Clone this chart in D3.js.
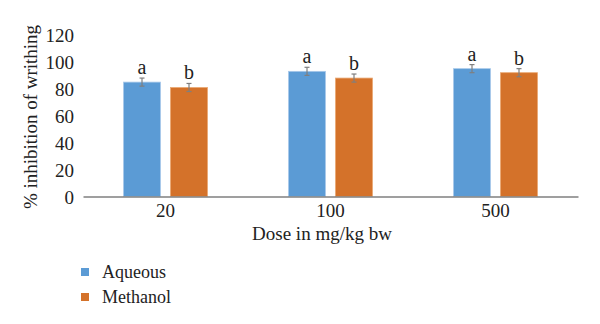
<!DOCTYPE html>
<html><head><meta charset="utf-8">
<script src="https://cdn.jsdelivr.net/npm/d3@7"></script>
<style>body{margin:0;background:#fff}svg{display:block}svg text{font-family:"Liberation Serif","DejaVu Serif","Times New Roman",serif !important;fill:#222}</style>
</head><body><svg id="c" width="600" height="324"></svg>
<script>
const categories = ["20", "100", "500"];
const seriesNames = ["Aqueous", "Methanol"];
const aqueous = [85, 93, 95];
const methanol = [81, 88, 92];
const aqueousErr = [3, 3, 3];
const methanolErr = [3, 3, 3];
const letters = ["a", "b"];
const yTicks = [0, 20, 40, 60, 80, 100, 120];
const colors = ["#5B9BD5", "#D4722A"];

const svg = d3.select("#c");
const m = {l: 83, r: 22, t: 35, b: 128};
const W = 600, H = 324;
const x = d3.scaleBand().domain(categories).range([m.l, W - m.r]).paddingInner(0).paddingOuter(0);
const y = d3.scaleLinear().domain([0, 120]).range([196.5, 35]);
const barW = 37, gap = 10;

const data = categories.map((c, i) => ({c, vals: [
  {s: 0, v: aqueous[i], e: aqueousErr[i]},
  {s: 1, v: methanol[i], e: methanolErr[i]}
]}));

const yAxis = d3.axisLeft(y).tickValues(yTicks).tickSize(0).tickPadding(8);
const ya = svg.append("g").attr("transform", `translate(${m.l},0)`).call(yAxis).attr("font-family", null);
ya.select(".domain").remove();
ya.selectAll("text").style("font-size", "19px").attr("fill", "#222").attr("dx", "-1").attr("dy", "0.35em");

const g = svg.append("g");
data.forEach(d => {
  const cx = x(d.c) + x.bandwidth() / 2;
  d.vals.forEach(v => {
    const x0 = v.s === 0 ? cx - gap / 2 - barW : cx + gap / 2;
    g.append("rect").attr("x", x0).attr("y", y(v.v)).attr("width", barW)
      .attr("height", y(0) - y(v.v)).attr("fill", colors[v.s])
      .attr("stroke", v.s === 0 ? "#a9c9ea" : "#eaa873").attr("stroke-width", 0.8);
    const ex = x0 + barW / 2;
    const eg = g.append("g").attr("stroke", "#7f7f7f").attr("stroke-width", 1.2);
    eg.append("line").attr("x1", ex).attr("x2", ex).attr("y1", y(v.v + v.e)).attr("y2", y(v.v - v.e));
    eg.append("line").attr("x1", ex - 2.5).attr("x2", ex + 2.5).attr("y1", y(v.v + v.e)).attr("y2", y(v.v + v.e));
    eg.append("line").attr("x1", ex - 2.5).attr("x2", ex + 2.5).attr("y1", y(v.v - v.e)).attr("y2", y(v.v - v.e));
    g.append("text").attr("x", ex).attr("y", y(v.v + v.e) - 4).attr("text-anchor", "middle")
      .style("font-size", "20px").text(letters[v.s]);
  });
});

const xAxis = d3.axisBottom(x).tickSize(0).tickPadding(7);
const xa = svg.append("g").attr("transform", `translate(0,${y(0)})`).call(xAxis).attr("font-family", null);
xa.select(".domain").attr("stroke", "#7f7f7f").attr("stroke-width", 1.5);
xa.selectAll("text").style("font-size", "19px").attr("fill", "#222");

svg.append("text").attr("x", 322).attr("y", 240).attr("text-anchor", "middle")
  .style("font-size", "19px").text("Dose in mg/kg bw");
svg.append("text").attr("transform", "translate(37,117) rotate(-90)").attr("text-anchor", "middle")
  .style("font-size", "19px").text("% inhibition of writhing");

seriesNames.forEach((s, i) => {
  const ly = 272 + i * 25;
  svg.append("rect").attr("x", 81).attr("y", ly - 4).attr("width", 8).attr("height", 8).attr("fill", colors[i]);
  svg.append("text").attr("x", 102).attr("y", ly + 6).style("font-size", "18px").text(s);
});
</script></body></html>
